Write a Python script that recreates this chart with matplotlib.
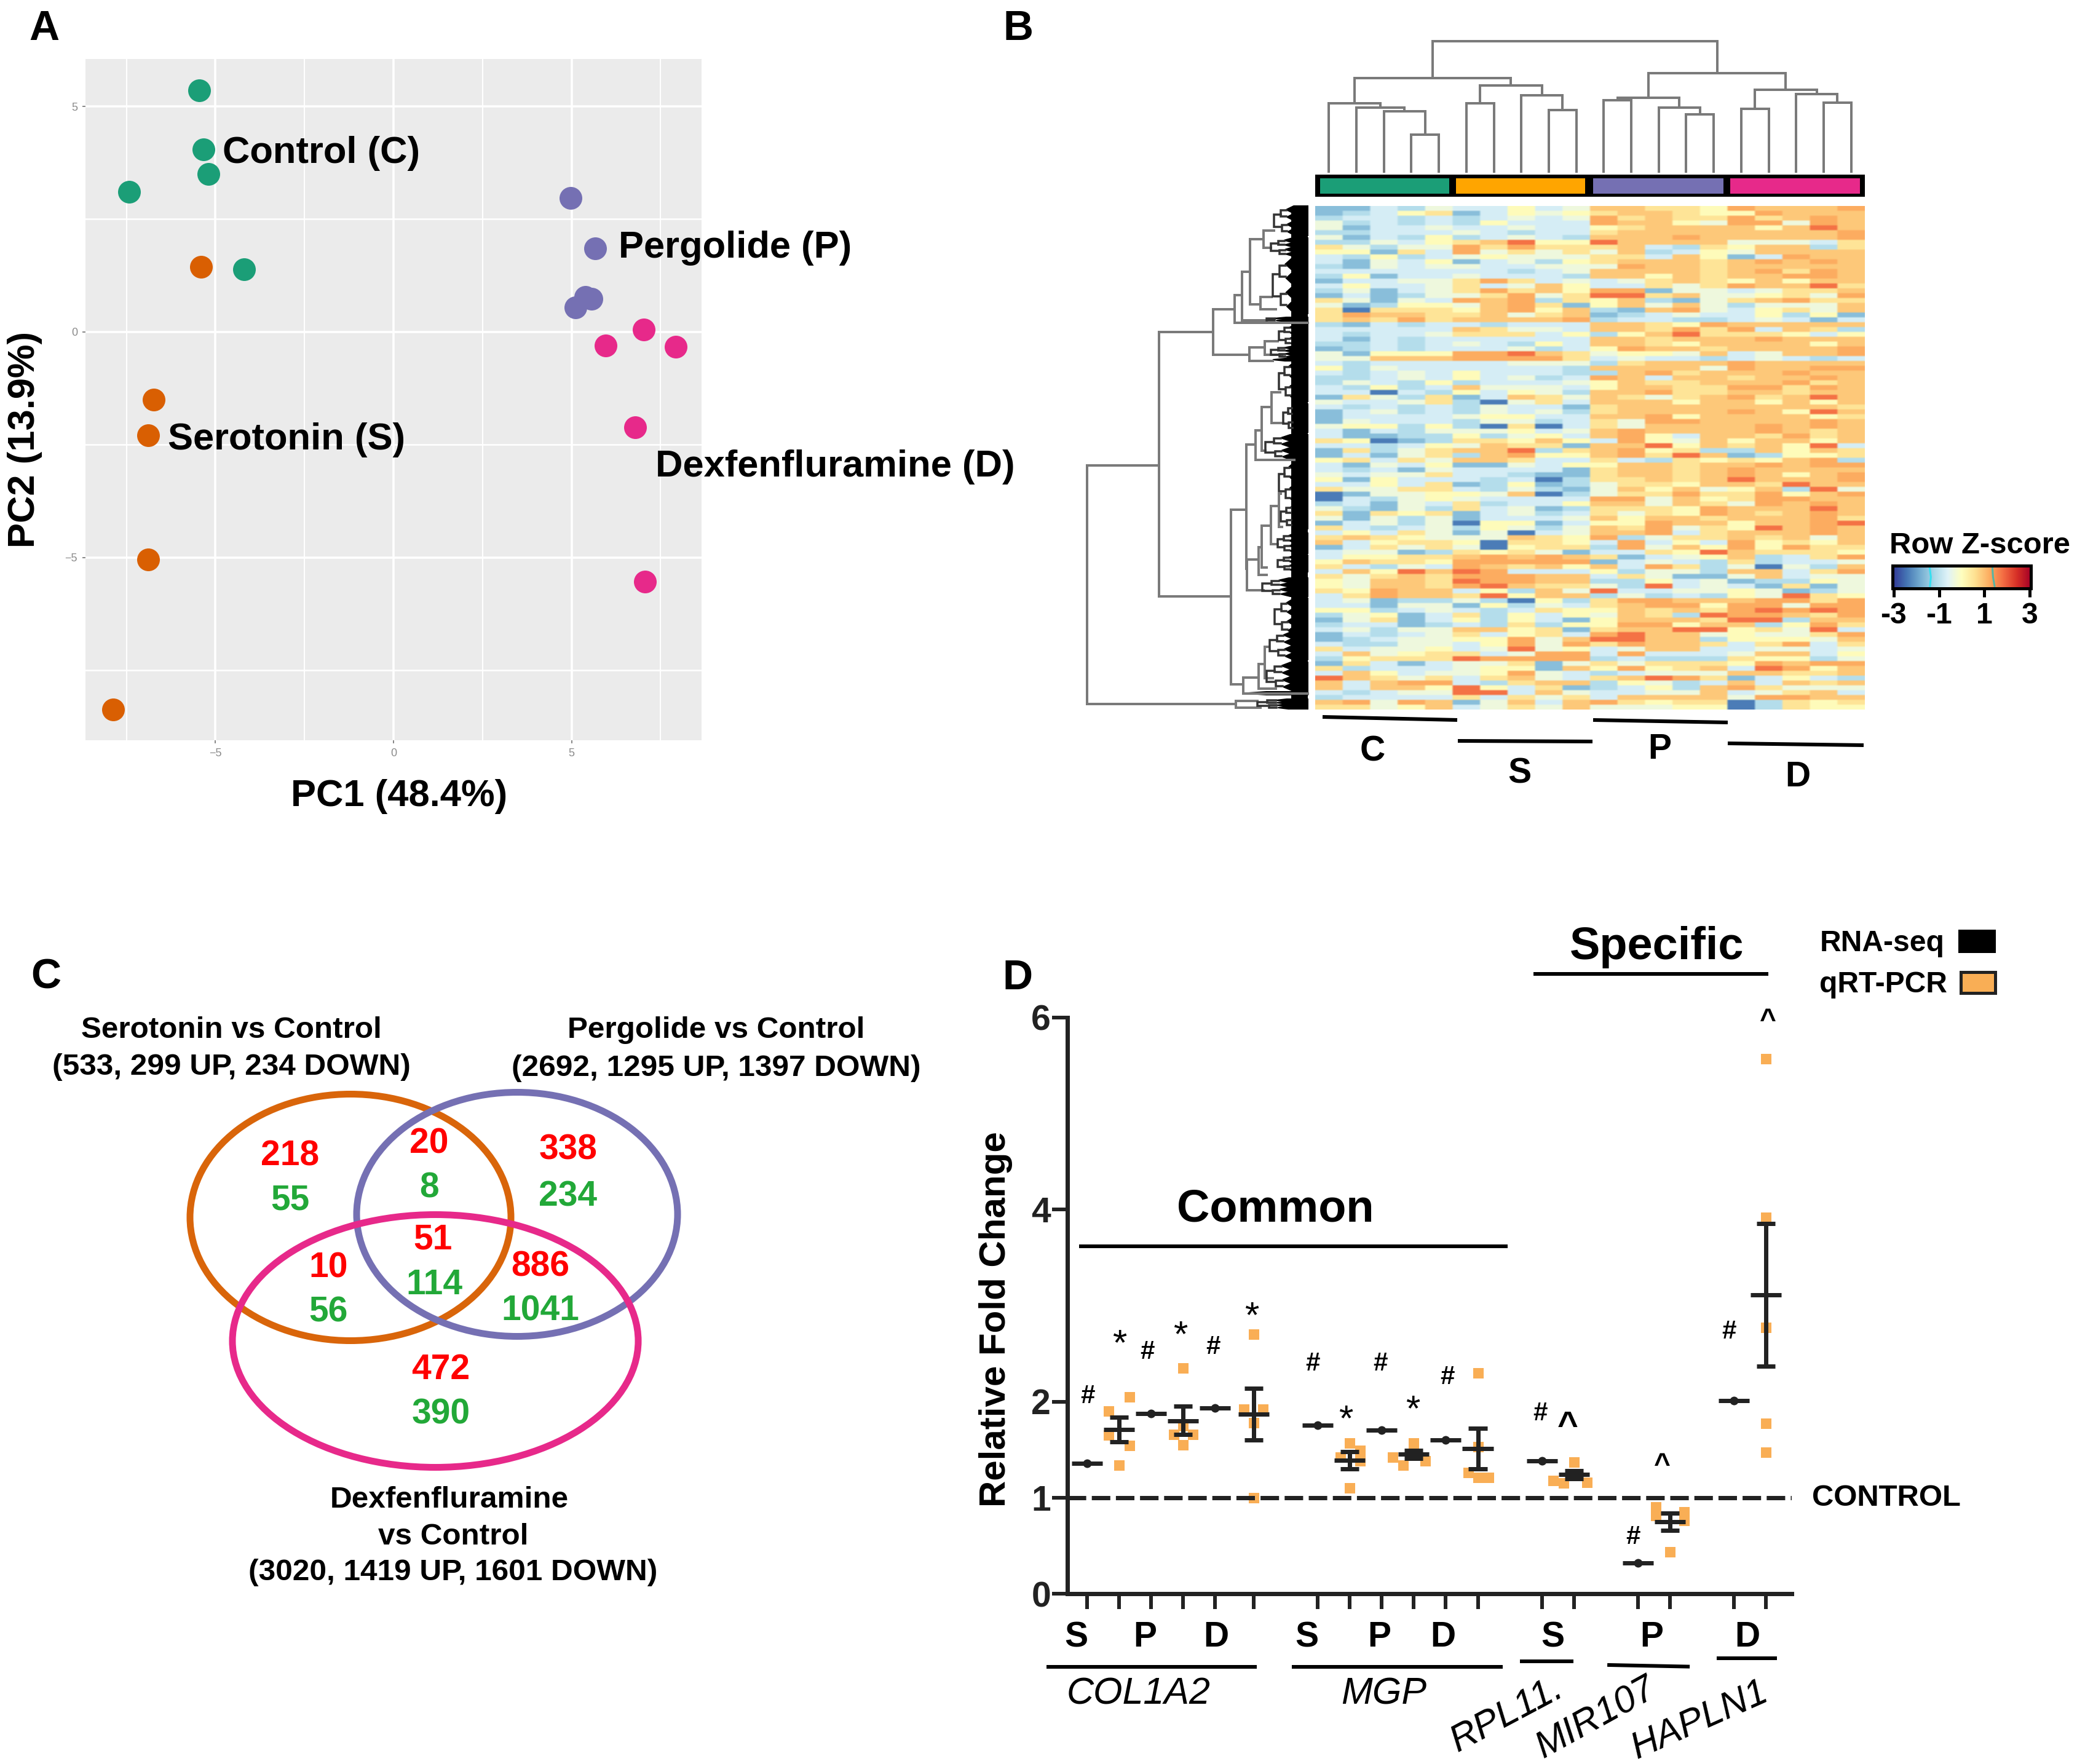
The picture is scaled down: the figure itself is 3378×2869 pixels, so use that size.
import numpy as np
import matplotlib
matplotlib.use("Agg")
import matplotlib.pyplot as plt
from matplotlib.patches import Ellipse, Rectangle, Polygon

plt.rcParams['font.family'] = ['Liberation Sans', 'DejaVu Sans']

W, H = 3378, 2869
DPI = 100

# ---------- Panel A data ----------
PCA_GROUPS = ['Control', 'Serotonin', 'Pergolide', 'Dexfenfluramine']
PC1_C = [-5.45, -5.34, -5.19, -7.42, -4.19]
PC2_C = [5.36, 4.04, 3.50, 3.10, 1.39]
PC1_S = [-5.41, -6.74, -6.89, -6.89, -7.87]
PC2_S = [1.44, -1.50, -2.29, -5.04, -8.37]
PC1_P = [4.98, 5.67, 5.39, 5.56, 5.11]
PC2_P = [2.97, 1.85, 0.78, 0.73, 0.54]
PC1_D = [7.02, 5.96, 7.92, 6.78, 7.06]
PC2_D = [0.05, -0.30, -0.33, -2.12, -5.54]

# ---------- Panel B data: z-score level per row, samples C S P D ----------
Z_LEVELS = [-2.3, -1.55, -1.1, -0.72, -0.32, 0.05, 0.5, 0.88, 1.2, 1.75]
HEAT_ROWS = """
11324 33534 77665 87778
12356 13545 67765 58777
23323 23434 86766 86787
42323 25333 87754 88487
41334 33433 56777 75797
22333 43233 67777 77778
41325 23432 77787 77778
22435 67955 97777 44436
64244 86866 67326 57726
55163 84646 47235 47777
32523 45444 66375 13877
31435 13425 67776 78787
21434 43344 48776 77777
33333 33234 77776 78687
25133 43332 77576 77887
13344 68634 34676 57577
35334 63475 33646 87796
24134 68675 88144 34667
13124 46846 99674 45648
64143 87826 57214 67866
41255 47861 57474 24447
60666 57857 21784 35647
68776 67467 12343 35251
67686 77778 23322 34313
21323 32333 77658 77777
33333 76443 77686 83762
32334 66635 25796 66535
31323 33333 77677 78777
22323 43253 77657 77757
12323 33423 58776 77778
41555 88976 45547 34778
44777 88886 34332 34323
32333 33444 26777 87777
52433 33332 77774 87788
32343 53332 27867 77877
22343 53423 87377 67787
24325 23334 57667 77867
32523 74443 57766 88687
33032 53542 77866 77677
16426 13764 76467 86797
43346 20463 77757 75757
32323 24331 67777 77776
13423 24342 67777 87597
13333 45533 77857 77756
14333 24423 64887 77787
45525 20603 64777 78787
31324 44534 78777 78767
31122 52453 78537 76867
65012 66575 38547 57757
33235 47661 77957 67593
16246 77926 78562 27576
13146 27855 78697 12556
56364 77633 63265 65782
31435 11435 57767 78788
32314 33331 67767 87777
43446 33211 67767 87578
51533 32302 66767 97778
33536 12512 46657 76977
64466 32421 47574 57294
01445 54702 46686 68578
03245 43333 88475 68877
23143 62335 77476 48787
42142 63412 66658 77797
61656 13423 64658 76787
41424 13334 75776 77786
13424 05513 55877 57789
63234 25424 76846 59787
35364 14034 77836 77787
67654 44765 82466 76747
73566 50665 38353 85657
13646 40566 28475 85866
34412 65641 33659 76665
35566 78787 61345 72368
57665 88888 13432 62334
63243 87675 73862 40427
37597 98333 52442 77368
64676 88877 36411 47344
54776 98877 22534 12254
54776 89766 42934 31614
65877 35274 93344 54124
36877 69577 24232 54965
34122 42052 68877 78868
33144 15243 67885 88488
55234 32365 57676 89898
24513 62535 47629 88768
14613 52531 57776 99277
23312 32625 58857 72586
34244 77561 67799 56493
13234 63563 89774 54468
12344 55847 99772 55547
32244 35848 68776 36836
63445 34945 34773 34434
37456 63488 38333 47735
25666 98888 23222 65524
16313 44614 64666 58788
62333 45517 58567 39857
37534 45843 23444 77667
97646 36743 67986 13532
73788 32677 25423 73767
73775 95361 23527 86444
32344 99374 33447 34673
23333 63646 37777 48877
78487 14737 86566 02656
66457 34647 44455 02655
""".strip().splitlines()

# ---------- Column and row dendrograms ----------
COL_MERGES = [(3, 4, 60), (2, 20, 98), (1, 21, 104), (0, 22, 111), (8, 9, 100), (7, 24, 124),
              (5, 6, 111), (26, 25, 140), (23, 27, 152), (13, 14, 93), (12, 29, 104), (10, 11, 116),
              (31, 30, 120), (15, 16, 102), (18, 19, 112), (17, 34, 126), (33, 35, 133),
              (32, 36, 160), (28, 37, 212)]
ROW_BRACKETS = [(1768, 757, 1885, 1145, 2010), (1885, 540, 1973, 970, 2002), (1973, 503, 2008, 577, 2032),
                (2008, 480, 2020, 525, 2127), (2020, 442, 2033, 521, 2060), (2033, 389, 2055, 495, 2050),
                (2055, 375, 2072, 403, 2067), (2050, 483, 2068, 503, 2075), (2032, 565, 2057, 587, 2070),
                (2057, 555, 2078, 577, 2085), (2002, 829, 2027, 1113, 2022), (2027, 723, 2042, 925, 2028),
                (2028, 910, 2047, 960, 2055), (2042, 700, 2052, 748, 2105), (2052, 662, 2068, 733, 2058),
                (2068, 638, 2082, 688, 2087), (2047, 890, 2052, 935, 2060), (2052, 855, 2067, 923, 2060),
                (2067, 823, 2080, 885, 2078), (2080, 803, 2083, 857, 2085), (2022, 1102, 2047, 1128, 2127),
                (2047, 1080, 2057, 1120, 2075), (2057, 1052, 2063, 1103, 2070), (2010, 1140, 2045, 1151, 2050)]
ROW_CLUSTERS = [(2072, 335, 383), (2067, 387, 417), (2070, 418, 510), (2060, 516, 523), (2080, 528, 563),
                (2067, 563, 583), (2070, 583, 587), (2080, 587, 653), (2087, 657, 703), (2058, 707, 748),
                (2080, 750, 820), (2083, 820, 860), (2078, 867, 900), (2078, 903, 930), (2053, 940, 970),
                (2073, 973, 1033), (2065, 1027, 1073), (2060, 1077, 1123), (2023, 1125, 1130), (2045, 1137, 1153)]

# ---------- Panel C data ----------
VENN_UP = ['218', '20', '338', '51', '10', '886', '472']
VENN_DOWN = ['55', '8', '234', '114', '56', '1041', '390']

# ---------- Panel D data ----------
GENES = ['COL1A2', 'MGP', 'RPL11.', 'MIR107', 'HAPLN1']
RNA_SLOTS = [0, 2, 4, 7.2, 9.2, 11.2, 14.2, 17.2, 20.2]
RNA_VALUES = [1.355, 1.876, 1.93, 1.755, 1.70, 1.60, 1.385, 0.32, 2.01]
QPCR_SLOTS = [1, 3, 5.2, 8.2, 10.2, 12.2, 15.2, 18.2, 21.2]
QPCR_MEAN = [1.71, 1.80, 1.87, 1.39, 1.45, 1.51, 1.24, 0.75, 3.11]
QPCR_LOW = [1.58, 1.66, 1.60, 1.30, 1.41, 1.30, 1.20, 0.66, 2.37]
QPCR_HIGH = [1.84, 1.95, 2.14, 1.48, 1.49, 1.72, 1.28, 0.84, 3.85]
QPCR_POINTS = [[1.90, 2.05, 1.65, 1.54, 1.34], [2.35, 1.75, 1.66, 1.66, 1.55], [2.70, 1.92, 1.92, 1.78, 1.00],
               [1.57, 1.49, 1.42, 1.38, 1.10], [1.57, 1.42, 1.38, 1.34, 1.45], [2.30, 1.53, 1.26, 1.21, 1.21],
               [1.37, 1.18, 1.15, 1.16, 1.24], [0.90, 0.85, 0.76, 0.81, 0.435], [5.57, 3.92, 2.77, 1.77, 1.47]]
QPCR_JITTER = [[-.33, .33, -.33, .33, 0], [0, 0, -.3, .3, 0], [0, -.3, .3, 0, 0],
               [0, .33, -.3, .33, 0], [0, -.65, .35, -.33, 0], [0, 0, -.3, 0, .33],
               [0, -.65, -.33, .4, 0], [-.45, .45, .45, -.45, 0], [0, 0, 0, 0, 0]]

# ---------- Figure helpers ----------
fig = plt.figure(figsize=(W / DPI, H / DPI), dpi=DPI, facecolor='white')


def axpx(x0, y0, x1, y1, **kw):
    return fig.add_axes([x0 / W, 1 - y1 / H, (x1 - x0) / W, (y1 - y0) / H], **kw)


pt = lambda px: px * 72 / DPI

# ---------- Panel A ----------
axa = axpx(139, 96, 1141, 1204, facecolor='#EBEBEB')
axa.set_xlim(-8.65, 8.65)
axa.set_ylim(-9.05, 6.05)
for s in axa.spines.values():
    s.set_visible(False)
for v in [-7.5, -2.5, 2.5, 7.5]:
    axa.axvline(v, color='white', lw=pt(2), zorder=1)
for v in [2.5, -2.5, -7.5]:
    axa.axhline(v, color='white', lw=pt(2.5), zorder=1)
for v in [-5, 0, 5]:
    axa.axvline(v, color='white', lw=pt(3.5), zorder=1)
    axa.axhline(v, color='white', lw=pt(3.5), zorder=1)
for xs, ys, c in [(PC1_C, PC2_C, '#1B9E77'), (PC1_S, PC2_S, '#D95F02'),
                  (PC1_P, PC2_P, '#7570B3'), (PC1_D, PC2_D, '#E7298A')]:
    axa.scatter(xs, ys, s=pt(37) ** 2, color=c, lw=0, zorder=3)
axa.set_xticks([-5, 0, 5])
axa.set_yticks([-5, 0, 5])
axa.tick_params(labelsize=pt(18), colors='#8A8A8A', length=pt(5), width=pt(2), pad=pt(8))

# ---------- Panel B: heat map ----------
Z = np.array([[Z_LEVELS[int(c)] for c in r.replace(' ', '')] for r in HEAT_ROWS])
axh = axpx(2139, 335, 3033, 1154)
axh.imshow(np.repeat(np.repeat(Z, 3, axis=0), 12, axis=1), cmap='RdYlBu_r', vmin=-3, vmax=3,
           aspect='auto', interpolation='bilinear')
axh.axis('off')

# colour key
axk = axpx(3078, 920, 3303, 957)
axk.imshow(np.linspace(-3, 3, 256)[None, :], cmap='RdYlBu_r', aspect='auto', extent=[-3.05, 3.05, 0, 1])
axk.plot([-1.4, -1.36, -1.42], [0.1, 0.5, 0.95], color='#33E0F0', lw=pt(3))
axk.plot([1.35, 1.38, 1.45], [0.95, 0.5, 0.1], color='#55B5A5', lw=pt(3))
axk.set_xlim(-3.05, 3.05)
axk.set_ylim(0, 1)
axk.set_yticks([])
axk.set_xticks([-3, -1, 1, 3])
axk.set_xticklabels(['-3', '-1', '1', '3'], fontweight='bold', fontsize=pt(48))
axk.tick_params(length=pt(14), width=pt(5), pad=pt(8))
for s in axk.spines.values():
    s.set_linewidth(pt(5))

# ---------- Panel D ----------
INK = '#222222'
axd = axpx(1736, 1654.5, 2914, 2592)
axd.patch.set_alpha(0)
axd.set_xlim(-0.614, 22.0)
axd.set_ylim(0, 6)
for s in ['top', 'right']:
    axd.spines[s].set_visible(False)
for s in ['left', 'bottom']:
    axd.spines[s].set_linewidth(pt(7))
    axd.spines[s].set_color(INK)
axd.set_yticks([0, 1, 2, 4, 6])
axd.set_yticklabels(['0', '1', '2', '4', '6'], fontweight='bold', fontsize=pt(57), color=INK)
axd.set_xticks(sorted(RNA_SLOTS + QPCR_SLOTS))
axd.set_xticklabels([])
axd.tick_params(axis='both', length=pt(25), width=pt(6), color=INK, pad=pt(2))
axd.plot([-0.614, 22.0], [1, 1], color=INK, lw=pt(7), dashes=(4.3, 1.3), dash_capstyle='butt', zorder=4)
for x, pts, jit in zip(QPCR_SLOTS, QPCR_POINTS, QPCR_JITTER):
    axd.scatter(np.array(jit) + x, pts, marker='s', s=pt(17) ** 2, color='#F9AE55', lw=0, zorder=3, clip_on=False)
axd.hlines(RNA_VALUES, np.array(RNA_SLOTS) - 0.48, np.array(RNA_SLOTS) + 0.48, color=INK, lw=pt(7), zorder=5)
axd.scatter(RNA_SLOTS, RNA_VALUES, s=pt(14) ** 2, color=INK, lw=0, zorder=5)
qx = np.array(QPCR_SLOTS)
axd.vlines(qx, QPCR_LOW, QPCR_HIGH, color=INK, lw=pt(7), zorder=5)
axd.hlines(QPCR_MEAN, qx - 0.48, qx + 0.48, color=INK, lw=pt(7), zorder=5)
axd.hlines(QPCR_LOW, qx - 0.29, qx + 0.29, color=INK, lw=pt(7), zorder=5)
axd.hlines(QPCR_HIGH, qx - 0.29, qx + 0.29, color=INK, lw=pt(7), zorder=5)

# ---------- Overlay in pixel coordinates ----------
ov = fig.add_axes([0, 0, 1, 1], facecolor='none')
ov.set_xlim(0, W)
ov.set_ylim(H, 0)
ov.axis('off')

TEXT_DY = 5


def T(x, y, s, px, ha='center', weight='bold', color='black', **kw):
    ov.text(x, y + TEXT_DY, s, fontsize=pt(px), ha=ha, va='center', fontweight=weight, color=color, **kw)


def L(x0, y0, x1, y1, lw=6, color='black'):
    ov.plot([x0, x1], [y0, y1], color=color, lw=pt(lw), solid_capstyle='butt')


for (x, y, s) in [(72, 42, 'A'), (1656, 42, 'B'), (75, 1585, 'C'), (1655, 1586, 'D')]:
    T(x, y, s, 68)

# A labels
T(362, 244, 'Control (C)', 61.5, ha='left')
T(1006, 399, 'Pergolide (P)', 61.5, ha='left')
T(273, 710, 'Serotonin (S)', 61.5, ha='left')
T(1066, 755, 'Dexfenfluramine (D)', 61.5, ha='left')
T(649, 1290, 'PC1 (48.4%)', 61.5)
T(41, 710, 'PC2 (13.9%)', 61.5, rotation=90)

# B: column side colours
ov.add_patch(Rectangle((2139, 284), 894, 36, color='black', lw=0))
for x0, x1, c in [(2147, 2357, '#1B9E77'), (2368, 2578, '#FFA500'), (2591, 2803, '#7570B3'), (2814, 3025, '#E7298A')]:
    ov.add_patch(Rectangle((x0, 290), x1 - x0, 25, color=c, lw=0))

# B: column dendrogram
GRAY = '#7A7A7A'
leaf_x = [2139 + 44.7 * (i + 0.5) for i in range(20)]
BASE = 279
nodes = {i: (leaf_x[i], 0) for i in range(20)}
for k, (a, b, h) in enumerate(COL_MERGES):
    xa, ha_ = nodes[a]
    xb, hb = nodes[b]
    ov.plot([xa, xa, xb, xb], [BASE - ha_, BASE - h, BASE - h, BASE - hb], color=GRAY, lw=pt(4),
            solid_joinstyle='miter')
    nodes[20 + k] = ((xa + xb) / 2, h)

# B: row dendrogram
for x, yt, xt, yb, xb in ROW_BRACKETS:
    ov.plot([xt, x, x, xb], [yt, yt, yb, yb], color=GRAY, lw=pt(4), solid_joinstyle='miter')
RIGHT = 2127


def subtree(x, yt, yb, depth):
    """Fine branches of a dense row cluster, drawn as nested brackets."""
    y1 = yt + (yb - yt) * 0.3
    y2 = yb - (yb - yt) * 0.3
    step = (RIGHT - x) * 0.2
    if depth == 0 or yb - yt < 6:
        ov.add_patch(Polygon([(x, (yt + yb) / 2), (x + (RIGHT - x) * 0.35, yt), (RIGHT, yt), (RIGHT, yb),
                              (x + (RIGHT - x) * 0.35, yb)], closed=True,
                             facecolor='black', edgecolor='black', lw=pt(2)))
        return
    ov.plot([x + step, x, x, x + step], [y1, y1, y2, y2], color='#333333', lw=pt(3.5), solid_joinstyle='miter')
    subtree(x + step, yt, (yt + yb) / 2, depth - 1)
    subtree(x + step * 1.15, (yt + yb) / 2, yb, depth - 1)


for ax_, yt, yb in ROW_CLUSTERS:
    subtree(ax_, yt, yb, 2)
ov.add_patch(Polygon([(2112, 335), (2127, 335), (2127, 1153), (2100, 1153), (2100, 345)], closed=True,
                     facecolor='black', edgecolor='none'))

# B: group bars / labels
L(2151, 1166, 2370, 1171, 6)
L(2371, 1205, 2590, 1206, 6)
L(2591, 1171, 2810, 1175, 6)
L(2810, 1209, 3031, 1212, 6)
T(2232, 1217, 'C', 57)
T(2471, 1254, 'S', 57)
T(2699, 1214, 'P', 57)
T(2924, 1259, 'D', 57)
T(3220, 882, 'Row Z-score', 49)

# C: Venn
for (cx, cy, w, h, c) in [(570, 1980, 522, 401, '#D9650A'), (841, 1975, 522, 397, '#7570B3'), (708, 2181, 660, 411, '#E7298A')]:
    ov.add_patch(Ellipse((cx, cy), w, h, fill=False, edgecolor=c, lw=pt(11)))
RED, GRN = '#FF0000', '#22A838'
UP_POS = [(472, 1875), (698, 1855), (924, 1866), (704, 2012), (534, 2057), (879, 2055), (717, 2223)]
DN_POS = [(472, 1947), (698, 1928), (924, 1941), (706, 2085), (534, 2130), (879, 2128), (717, 2296)]
for s, (x, y) in zip(VENN_UP, UP_POS):
    T(x, y, s, 57, color=RED)
for s, (x, y) in zip(VENN_DOWN, DN_POS):
    T(x, y, s, 57, color=GRN)
T(376, 1671, 'Serotonin vs Control', 49.5)
T(376, 1730, '(533, 299 UP, 234 DOWN)', 49.5)
T(1165, 1671, 'Pergolide vs Control', 49.5)
T(1165, 1732, '(2692, 1295 UP, 1397 DOWN)', 49.5)
T(731, 2434, 'Dexfenfluramine', 49.5)
T(737, 2494, 'vs Control', 49.5)
T(737, 2553, '(3020, 1419 UP, 1601 DOWN)', 49.5)


# D: annotation (positions measured as in the crop of panel D)
def zx(x):
    return 1550 + x / 0.858


def zy(y):
    return 1450 + y / 1.105


T(zx(60), zy(763), 'Relative Fold Change', 60, rotation=90)
T(zx(450), zy(566), 'Common', 74)
L(zx(176), zy(638), zx(774), zy(638), 6)
T(zx(982), zy(95), 'Specific', 74)
L(zx(810), zy(148), zx(1138), zy(148), 6)
T(zx(1297), zy(88), 'RNA-seq', 48)
T(zx(1298), zy(162), 'qRT-PCR', 48)
ov.add_patch(Rectangle((zx(1403), zy(68)), 61, 38, color='black', lw=0))
ov.add_patch(Rectangle((zx(1406), zy(145)), 56, 34, facecolor='#F9AE55', edgecolor=INK, lw=pt(5)))
T(zx(1302), zy(1085), 'CONTROL', 49)
for x, s in [(172, 'S'), (268, 'P'), (367, 'D'), (494, 'S'), (595, 'P'), (684, 'D'), (837, 'S'), (975, 'P'), (1108, 'D')]:
    T(zx(x), zy(1335), s, 57)
for x0, x1, y0, y1 in [(130, 424, 1393, 1393), (473, 767, 1393, 1393), (791, 866, 1383, 1383),
                       (913, 1028, 1390, 1393), (1066, 1150, 1378, 1378)]:
    L(zx(x0), zy(y0), zx(x1), zy(y1), 6)
T(1852, 2751, GENES[0], 61, weight='normal', style='italic')
T(2251, 2751, GENES[1], 61, weight='normal', style='italic')
T(2451, 2785, GENES[2], 61, weight='normal', style='italic', rotation=28, rotation_mode='anchor')
T(2596, 2790, GENES[3], 61, weight='normal', style='italic', rotation=29, rotation_mode='anchor')
T(2764, 2794, GENES[4], 61, weight='normal', style='italic', rotation=24, rotation_mode='anchor')
for x, y in [(188, 902), (271, 822), (363, 813), (502, 843), (596, 843), (690, 867), (819, 933), (1083, 786), (949, 1155)]:
    T(zx(x), zy(y), '#', 42)
for x, y in [(232, 800), (317, 784), (417, 750), (548, 935), (642, 918)]:
    T(zx(x), zy(y + 10), '*', 60, weight='normal')
for x, y, s in [(858, 950, 58), (990, 1020, 46), (1137, 222, 46)]:
    T(zx(x), zy(y + 6), '^', s)

fig.savefig('out.png', dpi=DPI, facecolor='white')
